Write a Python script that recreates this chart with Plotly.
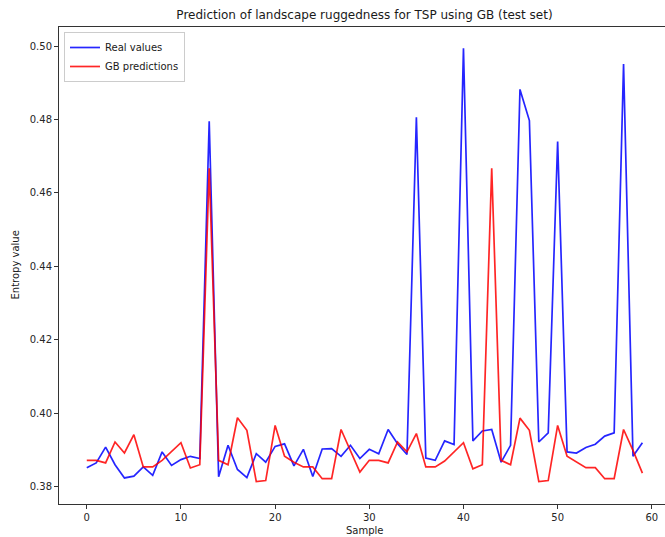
import plotly.graph_objects as go

samples = list(range(60))

real_values = [
    0.3851, 0.3864, 0.3907, 0.3859, 0.3823, 0.3828, 0.3853, 0.3830, 0.3894, 0.3857,
    0.3873, 0.3882, 0.3876, 0.4795, 0.3826, 0.3912, 0.3846, 0.3824, 0.3889, 0.3866,
    0.3909, 0.3916, 0.3856, 0.3901, 0.3827, 0.3902, 0.3903, 0.3882, 0.3912, 0.3876,
    0.3901, 0.3889, 0.3955, 0.3916, 0.3887, 0.4806, 0.3877, 0.3871, 0.3924, 0.3914,
    0.4994, 0.3924, 0.3951, 0.3955, 0.3866, 0.3912, 0.4882, 0.4797, 0.3921, 0.3946,
    0.4740, 0.3894, 0.3891, 0.3906, 0.3915, 0.3937, 0.3946, 0.4951, 0.3882, 0.3919,
]

gb_predictions = [
    0.3871, 0.3871, 0.3864, 0.3921, 0.3891, 0.3941, 0.3853, 0.3853, 0.3871, 0.3894,
    0.3919, 0.3850, 0.3859, 0.4667, 0.3871, 0.3859, 0.3987, 0.3953, 0.3813, 0.3816,
    0.3966, 0.3882, 0.3866, 0.3853, 0.3853, 0.3821, 0.3821, 0.3955, 0.3898, 0.3839,
    0.3871, 0.3871, 0.3864, 0.3921, 0.3894, 0.3944, 0.3853, 0.3853, 0.3869, 0.3894,
    0.3919, 0.3848, 0.3859, 0.4667, 0.3871, 0.3859, 0.3986, 0.3953, 0.3813, 0.3816,
    0.3966, 0.3882, 0.3866, 0.3851, 0.3851, 0.3821, 0.3821, 0.3955, 0.3898, 0.3836,
]

x_ticks = [0, 10, 20, 30, 40, 50, 60]
y_ticks = [0.38, 0.40, 0.42, 0.44, 0.46, 0.48, 0.50]

FONT = "DejaVu Sans"
W, H = 665, 537
ML, MR, MT, MB = 59, 0, 27, 33
PW, PH = W - ML - MR, H - MT - MB

fig = go.Figure()
fig.add_trace(go.Scatter(x=samples, y=real_values, mode="lines", name="Real values",
                         line=dict(color="#0000ff", width=1.7), opacity=0.85))
fig.add_trace(go.Scatter(x=samples, y=gb_predictions, mode="lines", name="GB predictions",
                         line=dict(color="#ff0000", width=1.7), opacity=0.85))

fig.update_layout(
    width=W, height=H,
    margin=dict(l=ML, r=MR, t=MT, b=MB, pad=0),
    paper_bgcolor="white", plot_bgcolor="white",
    font=dict(family=FONT, size=10, color="#262626"),
    title=dict(text="Prediction of landscape ruggedness for TSP using GB (test set)",
               font=dict(family=FONT, size=12, color="#1a1a1a"),
               xref="paper", x=(364.5 - ML) / PW, xanchor="center",
               yref="container", y=1 - 15 / H, yanchor="middle"),
    showlegend=True,
    legend=dict(x=(64 - ML) / PW, y=(H - MB - 32) / PH,
                xanchor="left", yanchor="top",
                bgcolor="rgba(255,255,255,0.8)", bordercolor="#cccccc", borderwidth=1,
                font=dict(family=FONT, size=10, color="#1a1a1a"),
                itemwidth=30, tracegroupgap=0),
    annotations=[
        dict(text="Sample", xref="paper", yref="paper",
             x=(364.5 - ML) / PW, y=-(530 - (H - MB)) / PH,
             xanchor="center", yanchor="middle", showarrow=False,
             font=dict(family=FONT, size=10, color="#1a1a1a")),
        dict(text="Entropy value", xref="paper", yref="paper",
             x=-(ML - 15) / PW, y=0.5, textangle=-90,
             xanchor="center", yanchor="middle", showarrow=False,
             font=dict(family=FONT, size=10, color="#1a1a1a")),
    ],
)

fig.update_xaxes(
    range=[-2.95, 61.4], tickvals=x_ticks, ticktext=[str(v) for v in x_ticks],
    showgrid=False, zeroline=False,
    showline=True, linecolor="#333333", linewidth=1, mirror=True,
    ticks="outside", ticklen=4, tickwidth=1, tickcolor="#333333",
)
fig.update_yaxes(
    range=[0.3752, 0.5052], tickvals=y_ticks, ticktext=[f"{v:.2f}" for v in y_ticks],
    showgrid=False, zeroline=False,
    showline=True, linecolor="#333333", linewidth=1, mirror=False,
    ticks="outside", ticklen=4, tickwidth=1, tickcolor="#333333",
)

fig.write_html(
    "out.html",
    config={"displayModeBar": False},
    post_script="document.body.style.margin='0';document.body.style.padding='0';"
                "document.body.style.overflow='hidden';",
)
